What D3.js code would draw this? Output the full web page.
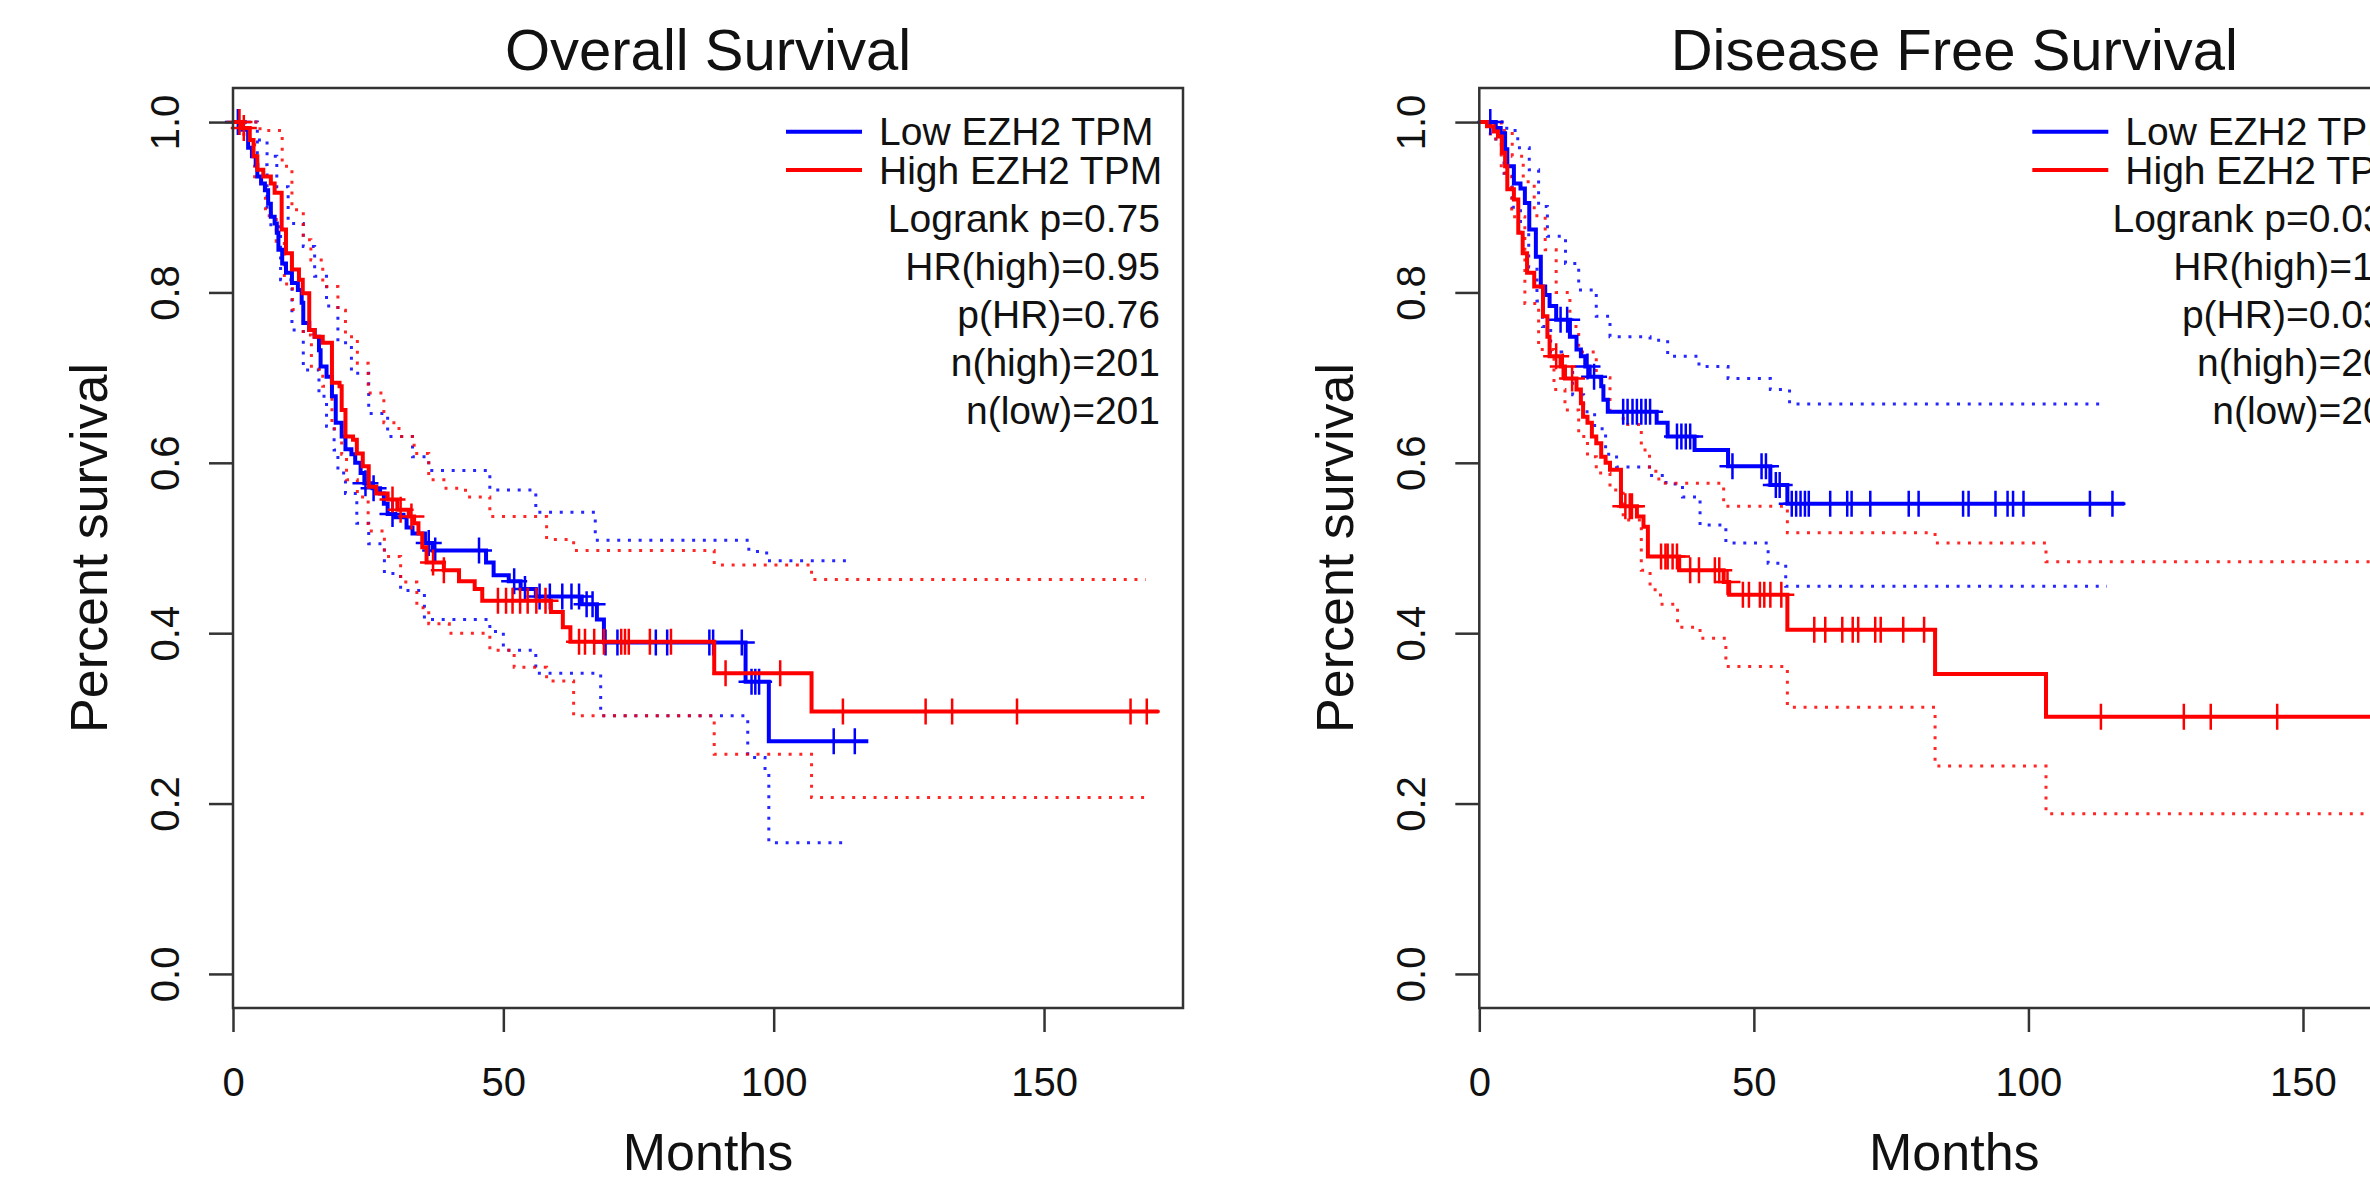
<!DOCTYPE html>
<html>
<head>
<meta charset="utf-8">
<script src="https://cdn.jsdelivr.net/npm/d3@7"></script>
<style>
  body { margin: 0; background: #fff; overflow: hidden; }
  svg text { font-family: "Liberation Sans", Arial, sans-serif; fill: #111; }
</style>
</head>
<body>
<div id="chart"></div>
<script>
// axis ticks and labels
const xTickLabels = [0, 50, 100, 150];
const yTickLabels = [0.0, 0.2, 0.4, 0.6, 0.8, 1.0];
const panelTitles = ["Overall Survival", "Disease Free Survival"];
const legendLabels = ["Low EZH2 TPM", "High EZH2 TPM"];
const osStats = ["Logrank p=0.75", "HR(high)=0.95", "p(HR)=0.76", "n(high)=201", "n(low)=201"];
const dfsStats = ["Logrank p=0.033", "HR(high)=1.5", "p(HR)=0.034", "n(high)=201", "n(low)=201"];

// Overall survival: [month, survival] steps, last point = end of follow-up
const osLow = [[0,1],[1.7,.991],[2.8,.970],[3.5,.960],[4.2,.950],[4.5,.936],[5.2,.928],[5.9,.920],[6.5,.904],[7.0,.889],[7.7,.881],[8.1,.870],[8.4,.850],[9.1,.834],[9.8,.823],[10.9,.811],[12.0,.803],[12.7,.788],[13.0,.764],[14.1,.756],[15.1,.748],[15.9,.732],[16.2,.713],[17.3,.701],[18.3,.678],[19.0,.647],[20.1,.631],[20.8,.616],[21.9,.610],[22.6,.600],[23.6,.588],[24.3,.576],[25.8,.570],[27.2,.564],[27.9,.552],[28.6,.540],[30.0,.536],[32.1,.524],[33.2,.517],[35.5,.506],[36.9,.497],[46.8,.483],[48.2,.468],[51.0,.461],[53.2,.452],[56.0,.443],[64.5,.434],[67.3,.416],[68.6,.389],[94.8,.343],[99.1,.273],[117.5,.273]];
const osLowCensor = [0.9, 24.5, 26.0, 29.5, 36.2, 37.4, 45.5, 52.0, 54.0, 56.7, 58.6, 60.9, 62.6, 64.0, 65.4, 66.5, 68.9, 71.1, 78.2, 80.3, 88.1, 88.8, 94.1, 95.9, 96.6, 97.3, 111.1, 115.0];
const osLowUpper = [[0,1],[4.5,.979],[6.3,.960],[8.1,.924],[10.2,.881],[13.0,.854],[15.1,.819],[17.3,.784],[19.4,.741],[21.9,.705],[25.1,.658],[28.6,.631],[33.2,.607],[36.2,.591],[47.5,.568],[56.0,.542],[67.0,.509],[95.4,.496],[98.7,.485],[113.6,.485]];
const osLowLower = [[0,1],[3.0,.980],[4.5,.950],[6.3,.893],[7.0,.877],[8.8,.815],[10.9,.756],[13.0,.709],[15.9,.678],[17.3,.643],[18.7,.615],[19.4,.588],[20.8,.564],[22.9,.529],[25.1,.505],[28.0,.470],[31.0,.450],[35.4,.416],[47.5,.402],[50.0,.380],[56.0,.353],[68.0,.303],[95.2,.254],[98.4,.236],[99.1,.154],[113.6,.154]];

const osHigh = [[0,1],[1.7,.993],[3.1,.979],[3.8,.960],[4.5,.944],[5.6,.936],[7.0,.928],[7.7,.917],[9.0,.874],[9.8,.846],[10.9,.827],[12.2,.815],[12.9,.799],[14.1,.756],[15.1,.748],[16.6,.741],[18.3,.694],[19.7,.690],[20.1,.662],[20.8,.631],[22.2,.627],[22.9,.611],[24.0,.596],[25.1,.572],[26.5,.564],[28.6,.557],[30.4,.545],[32.5,.537],[33.5,.529],[34.3,.517],[35.0,.501],[35.8,.483],[39.0,.474],[41.8,.461],[44.7,.452],[46.1,.438],[58.8,.425],[61.0,.407],[62.4,.390],[89.0,.353],[107.0,.308],[171.2,.308]];
const osHighCensor = [1.2, 2.0, 29.5, 31.0, 33.0, 37.0, 39.0, 49.0, 50.5, 51.7, 53.1, 54.5, 56.1, 57.8, 64.0, 65.1, 66.8, 68.6, 71.8, 72.5, 73.2, 77.1, 81.0, 91.1, 101.2, 112.8, 128.1, 133.0, 145.0, 166.0, 169.0];
const osHighUpper = [[0,1],[5.0,.990],[9.1,.948],[10.9,.897],[13.0,.862],[14.4,.838],[16.6,.807],[19.4,.779],[20.8,.748],[23.0,.717],[25.0,.682],[27.9,.647],[30.7,.631],[33.5,.611],[36.2,.580],[39.0,.570],[43.0,.560],[47.5,.537],[58.0,.510],[63.0,.497],[89.0,.480],[107.0,.463],[168.8,.463]];
const osHighLower = [[0,1],[2.0,.980],[4.0,.930],[6.0,.890],[8.0,.860],[9.5,.810],[11.0,.780],[13.0,.750],[14.5,.710],[16.6,.690],[18.3,.640],[20.1,.610],[21.0,.580],[23.0,.560],[25.0,.520],[28.0,.490],[31.0,.460],[34.0,.430],[36.2,.411],[40.0,.400],[47.5,.380],[52.0,.360],[58.0,.344],[63.0,.303],[89.0,.258],[107.0,.207],[168.8,.207]];

// Disease free survival
const dfsLow = [[0,1],[3.0,.993],[3.9,.987],[4.7,.968],[5.1,.948],[6.3,.928],[7.5,.922],[8.3,.905],[9.1,.874],[10.3,.842],[11.2,.807],[12.0,.797],[12.8,.784],[14.0,.768],[16.5,.748],[17.7,.733],[18.5,.725],[19.3,.713],[20.1,.701],[22.2,.690],[22.6,.674],[23.4,.660],[32.3,.647],[34.3,.631],[39.2,.615],[45.3,.596],[53.0,.574],[56.1,.552],[117.5,.552]];
const dfsLowCensor = [2.0, 14.8, 16.0, 19.7, 20.9, 26.2, 27.0, 27.9, 28.7, 29.5, 30.3, 31.1, 36.0, 36.8, 37.6, 38.4, 46.1, 51.4, 52.2, 54.0, 54.7, 56.9, 57.7, 58.5, 59.3, 60.0, 63.9, 67.0, 67.8, 71.2, 78.2, 80.0, 88.1, 89.1, 94.0, 96.2, 97.2, 99.1, 111.2, 115.3];
const dfsLowUpper = [[0,1],[5.0,.990],[7.0,.970],[9.1,.944],[10.8,.901],[12.4,.866],[15.7,.834],[18.1,.803],[21.3,.772],[23.8,.748],[31.1,.744],[34.3,.725],[40.0,.713],[45.3,.699],[53.0,.686],[56.5,.669],[113.6,.669]];
const dfsLowLower = [[0,1],[3.0,.980],[4.5,.940],[6.0,.900],[7.5,.870],[9.0,.830],[10.5,.790],[11.5,.760],[13.0,.730],[15.0,.710],[17.0,.680],[19.0,.660],[21.0,.640],[23.0,.610],[25.0,.595],[31.0,.585],[34.0,.575],[37.0,.560],[40.2,.527],[44.9,.506],[52.6,.482],[55.8,.455],[114.3,.455]];

const dfsHigh = [[0,1],[1.4,.995],[2.6,.989],[3.4,.983],[4.1,.964],[4.7,.948],[5.1,.921],[6.3,.909],[7.1,.870],[7.9,.846],[8.7,.823],[10.0,.807],[11.6,.772],[12.4,.748],[12.8,.725],[14.8,.713],[15.6,.699],[17.7,.686],[18.5,.670],[18.9,.654],[19.7,.647],[20.5,.631],[21.3,.623],[22.2,.607],[23.0,.600],[23.8,.592],[25.8,.549],[28.7,.537],[29.9,.525],[30.7,.490],[36.4,.474],[44.5,.460],[45.5,.445],[56.1,.404],[83.0,.352],[103.2,.302],[171.0,.302]];
const dfsHighCensor = [14.0, 15.2, 16.9, 26.6, 27.4, 27.8, 33.1, 33.9, 34.3, 35.2, 36.0, 38.4, 40.0, 42.9, 43.7, 45.2, 48.0, 49.1, 51.1, 51.9, 53.0, 55.0, 61.0, 63.0, 66.1, 68.0, 69.0, 72.1, 73.1, 77.2, 81.0, 113.2, 128.3, 133.2, 145.3];
const dfsHighUpper = [[0,1],[4.0,.990],[6.0,.960],[8.0,.930],[10.0,.890],[12.0,.850],[14.0,.800],[16.5,.760],[18.1,.730],[21.3,.700],[23.8,.660],[26.2,.645],[29.5,.615],[31.0,.590],[32.7,.576],[44.5,.549],[56.1,.518],[83.0,.506],[103.2,.484],[169.0,.484]];
const dfsHighLower = [[0,1],[2.0,.980],[4.0,.940],[5.9,.889],[8.3,.787],[10.8,.733],[13.6,.686],[15.6,.662],[18.1,.631],[19.7,.607],[21.3,.588],[23.8,.568],[26.2,.533],[29.5,.474],[31.1,.451],[33.0,.434],[36.1,.407],[40.2,.394],[44.9,.361],[56.1,.313],[83.0,.244],[103.2,.188],[169.0,.188]];

const W = 2370, H = 1199;
const boxW = 950, boxTop = 88, boxBottom = 1008;
const colors = ["#0000ff", "#ff0000"];

const svg = d3.select("#chart").append("svg")
  .attr("width", W)
  .attr("height", H);

// value of a step curve at time t
function survAt(steps, t) {
  let v = steps[0][1];
  steps.forEach(d => { if (d[0] <= t) v = d[1]; });
  return v;
}

function drawPanel(p) {
  let x = d3.scaleLinear().domain([0, p.xMax]).range([p.left, p.left + boxW]);
  let y = d3.scaleLinear().domain([-0.04, 1.04]).range([boxBottom, boxTop]);
  let g = svg.append("g");

  let step = d3.line()
    .x(d => x(d[0]))
    .y(d => y(d[1]))
    .curve(d3.curveStepAfter);

  // confidence bands (dotted)
  p.series.forEach((s, i) => {
    [s.upper, s.lower].forEach(band => {
      g.append("path")
        .attr("d", step(band))
        .attr("fill", "none")
        .attr("stroke", colors[i])
        .attr("stroke-opacity", 0.85)
        .attr("stroke-width", 3)
        .attr("stroke-dasharray", "3,7.7");
    });
  });

  // survival curves + censor marks
  p.series.forEach((s, i) => {
    g.append("path")
      .attr("d", step(s.curve))
      .attr("fill", "none")
      .attr("stroke", colors[i])
      .attr("stroke-width", 4);

    g.selectAll(null)
      .data(s.censor)
      .enter()
      .append("path")
      .attr("d", t => {
        let cx = x(t), cy = y(survAt(s.curve, t));
        return `M${cx - 13},${cy}H${cx + 13}M${cx},${cy - 13}V${cy + 13}`;
      })
      .attr("stroke", colors[i])
      .attr("stroke-width", 2.5)
      .attr("fill", "none");
  });

  // box
  g.append("rect")
    .attr("x", p.left)
    .attr("y", boxTop)
    .attr("width", boxW)
    .attr("height", boxBottom - boxTop)
    .attr("fill", "none")
    .attr("stroke", "#333")
    .attr("stroke-width", 2.5);

  // x axis
  let xAxis = g.append("g")
    .attr("transform", `translate(0, ${boxBottom})`)
    .call(d3.axisBottom(x).tickValues(xTickLabels).tickSize(24).tickPadding(35.6));
  xAxis.select(".domain").remove();
  xAxis.selectAll("line").attr("stroke", "#333").attr("stroke-width", 2.5);
  xAxis.selectAll("text").attr("font-size", 40).attr("fill", "#111");

  // y axis, labels rotated like base R
  let yAxis = g.append("g")
    .attr("transform", `translate(${p.left}, 0)`)
    .call(d3.axisLeft(y).tickValues(yTickLabels).tickSize(24).tickFormat(d3.format(".1f")));
  yAxis.select(".domain").remove();
  yAxis.selectAll("line").attr("stroke", "#333").attr("stroke-width", 2.5);
  yAxis.selectAll("text")
    .attr("x", null)
    .attr("dy", null)
    .attr("text-anchor", "middle")
    .attr("transform", "translate(-54, 0) rotate(-90)")
    .attr("font-size", 40)
    .attr("fill", "#111");

  // titles
  let cx = p.left + boxW / 2;
  g.append("text")
    .attr("x", cx)
    .attr("y", 70)
    .attr("text-anchor", "middle")
    .attr("font-size", 58)
    .text(p.title);

  g.append("text")
    .attr("x", cx)
    .attr("y", 1170)
    .attr("text-anchor", "middle")
    .attr("font-size", 52)
    .text("Months");

  g.append("text")
    .attr("transform", `translate(${p.left - 126}, ${(boxTop + boxBottom) / 2}) rotate(-90)`)
    .attr("text-anchor", "middle")
    .attr("font-size", 52)
    .text("Percent survival");

  // legend
  legendLabels.forEach((lab, i) => {
    let ly = 131.7 + i * 38.3;
    g.append("line")
      .attr("x1", p.left + 553)
      .attr("x2", p.left + 629)
      .attr("y1", ly)
      .attr("y2", ly)
      .attr("stroke", colors[i])
      .attr("stroke-width", 4);
    g.append("text")
      .attr("x", p.left + 646)
      .attr("y", ly + 13.5)
      .attr("font-size", 39)
      .text(lab);
  });

  p.stats.forEach((st, i) => {
    g.append("text")
      .attr("x", p.left + 927)
      .attr("y", 232 + i * 48)
      .attr("text-anchor", "end")
      .attr("font-size", 39)
      .text(st);
  });
}

drawPanel({
  left: 233,
  xMax: 175.7,
  title: panelTitles[0],
  stats: osStats,
  series: [
    {curve: osLow, censor: osLowCensor, upper: osLowUpper, lower: osLowLower},
    {curve: osHigh, censor: osHighCensor, upper: osHighUpper, lower: osHighLower}
  ]
});

drawPanel({
  left: 1479.3,
  xMax: 173.0,
  title: panelTitles[1],
  stats: dfsStats,
  series: [
    {curve: dfsLow, censor: dfsLowCensor, upper: dfsLowUpper, lower: dfsLowLower},
    {curve: dfsHigh, censor: dfsHighCensor, upper: dfsHighUpper, lower: dfsHighLower}
  ]
});
</script>
</body>
</html>
